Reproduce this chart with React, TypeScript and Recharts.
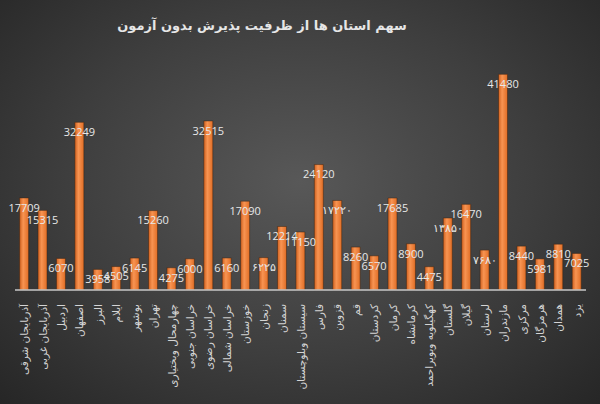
import { BarChart, Bar, XAxis, YAxis, LabelList } from 'recharts';

const provinces = [
    'آذربایجان شرقی', 'آذربایجان غربی', 'اردبیل', 'اصفهان', 'البرز', 'ایلام', 'بوشهر', 'تهران',
    'چهارمحال وبختیاری', 'خراسان جنوبی', 'خراسان رضوی', 'خراسان شمالی', 'خوزستان', 'زنجان',
    'سمنان', 'سیستان وبلوچستان', 'فارس', 'قزوین', 'قم', 'کردستان', 'کرمان', 'کرمانشاه',
    'کهگیلویه وبویراحمد', 'گلستان', 'گیلان', 'لرستان', 'مازندران', 'مرکزی', 'هرمزگان', 'همدان', 'یزد',
];

const capacity = [
    17709, 15315, 6070, 32249, 3958, 4505, 6145, 15260,
    4275, 6000, 32515, 6160, 17090, 6225,
    12214, 11150, 24120, 17220, 8260, 6570, 17685, 8900,
    4475, 13850, 16470, 7680, 41480, 8440, 5981, 8810, 7025,
];

// labels as printed on the chart (a few are in Persian digits)
const valueLabels = [
    '17709', '15315', '6070', '32249', '3958', '4505', '6145', '15260',
    '4275', '6000', '32515', '6160', '17090', '۶۲۲۵',
    '12214', '11150', '24120', '۱۷۲۲۰', '8260', '6570', '17685', '8900',
    '4475', '۱۳۸۵۰', '16470', '۷۶۸۰', '41480', '8440', '5981', '8810', '7025',
];

const data = provinces.map((name, i) => ({ name, value: capacity[i], label: valueLabels[i] }));

function ProvinceTick({ x, y, payload }: any) {
    return (
        <text
            x={x}
            y={y + 6}
            transform={`rotate(-90, ${x}, ${y + 6})`}
            textAnchor="end"
            dominantBaseline="central"
            fill="#d4d4d4"
            fontSize={10.5}
            fontFamily="DejaVu Sans"
        >
            {payload.value}
        </text>
    );
}

export default function App() {
    return (
        <div
            style={{
                position: 'absolute',
                left: 0,
                top: 0,
                width: 600,
                height: 404,
                background: 'radial-gradient(ellipse at 50% 45%, #585858 0%, #3e3e3e 55%, #262626 100%)',
                overflow: 'hidden',
            }}
        >
            <div
                style={{
                    position: 'absolute',
                    left: 0,
                    top: 18,
                    width: 524,
                    textAlign: 'center',
                    color: '#e6e6e6',
                    fontFamily: 'DejaVu Sans',
                    fontWeight: 'bold',
                    fontSize: 13,
                    direction: 'rtl',
                }}
            >
                سهم استان ها از ظرفیت پذیرش بدون آزمون
            </div>
            <BarChart
                width={600}
                height={404}
                data={data}
                margin={{ top: 56, right: 14, left: 15, bottom: 0 }}
                barCategoryGap="25%"
            >
                <defs>
                    <linearGradient id="barFill" x1="0" y1="0" x2="1" y2="0">
                        <stop offset="0%" stopColor="#d0611f" />
                        <stop offset="40%" stopColor="#f89452" />
                        <stop offset="100%" stopColor="#e06d25" />
                    </linearGradient>
                </defs>
                <XAxis
                    dataKey="name"
                    interval={0}
                    height={114}
                    tickLine={false}
                    axisLine={{ stroke: '#c8c8c8', strokeWidth: 1.5 }}
                    tick={<ProvinceTick />}
                />
                <YAxis hide domain={[0, 45000]} />
                <Bar dataKey="value" fill="url(#barFill)" stroke="#3a2414" strokeWidth={0.5} isAnimationActive={false}>
                    <LabelList
                        dataKey="label"
                        position="insideTop"
                        offset={6}
                        fill="#e8e8e8"
                        fontSize={11}
                        fontFamily="Open Sans"
                    />
                </Bar>
            </BarChart>
        </div>
    );
}
